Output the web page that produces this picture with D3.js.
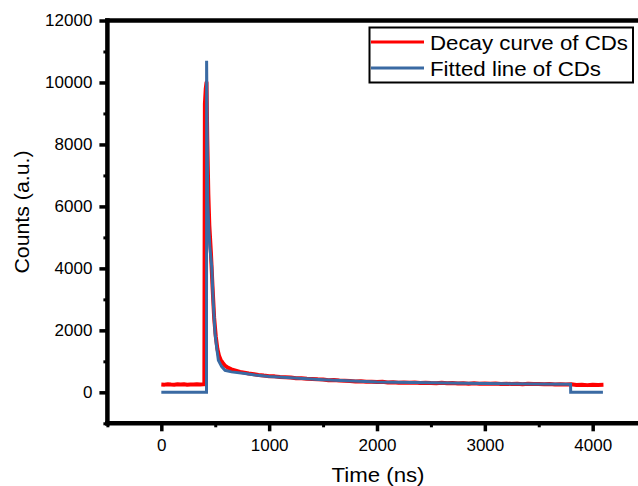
<!DOCTYPE html>
<html>
<head>
<meta charset="utf-8">
<script src="https://cdn.jsdelivr.net/npm/d3@7"></script>
<style>
  html, body { margin: 0; padding: 0; background: #fff; }
  svg { display: block; font-family: "Liberation Sans", Arial, sans-serif; }
</style>
</head>
<body>
<svg id="chart" width="638" height="486"></svg>
<script>
// ---- data ----
const seriesNames = ["Decay curve of CDs", "Fitted line of CDs"];

const decayTime = [0,30,60,90,120,150,180,210,240,270,300,330,360,390,399,404,412,419,426,436,445,460,475,490,505,520,535,550,570,590,620,650,690,730,770,810,860,900,950,1000,
  1050,1100,1150,1200,1250,1300,1350,1400,1450,1500,1550,1600,1650,1700,1750,1800,1850,1900,1950,2000,
  2050,2100,2150,2200,2250,2300,2350,2400,2450,2500,2550,2600,2650,2700,2750,2800,2850,2900,2950,3000,
  3050,3100,3150,3200,3250,3300,3350,3400,3450,3500,3550,3600,3650,3700,3750,3800,3850,3900,3950,4000,4050,4100];
const decayCounts = [255,248,262,251,246,258,250,263,247,256,249,260,252,257,260,9300,9800,10000,8200,6400,5400,4500,3400,2400,1800,1400,1180,1050,950,860,790,740,700,660,635,605,585,562,540,522,
  515,492,488,478,452,455,437,430,418,415,392,398,380,377,368,352,360,338,342,330,
  338,318,325,312,320,305,314,298,308,300,296,306,290,298,284,294,280,290,278,287,
  275,284,270,280,268,277,262,274,265,270,258,268,255,264,252,260,238,246,232,244,236,242];

const fitTime = [0,419,420,425,430,440,450,468,480,498,515,529,560,591,650,776,869,1000,1200,1500,2000,2500,3000,3500,3795,3796,4095];
const fitCounts = [0,0,10700,8500,6200,5300,4700,4030,3000,1900,1400,1030,830,710,660,610,560,510,470,405,335,305,285,268,258,0,0];

const xMajorTicks = [0,1000,2000,3000,4000];
const xMinorTicks = [-500,500,1500,2500,3500];
const yMajorTicks = [0,2000,4000,6000,8000,10000,12000];
const yMinorTicks = [-1000,1000,3000,5000,7000,9000,11000];

const xTitle = "Time (ns)";
const yTitle = "Counts (a.u.)";

// ---- drawing ----
const svg = d3.select("#chart");
const x = d3.scaleLinear().domain([-500, 4500]).range([107.4, 646.6]);
const y = d3.scaleLinear().domain([-1000, 12000]).range([423.3, 20.5]);

const red = "#ff0000", blue = "#3a6aa3";

svg.append("defs").append("clipPath").attr("id", "clip")
  .append("rect").attr("x", x(-500)).attr("y", y(12000)).attr("width", x(4500) - x(-500)).attr("height", y(-1000) - y(12000));

const line = d3.line().x(d => x(d[0])).y(d => y(d[1]));
const plot = svg.append("g").attr("clip-path", "url(#clip)");

plot.append("path")
  .datum(decayTime.map((t, i) => [t, decayCounts[i]]))
  .attr("d", line).attr("fill", "none").attr("stroke", red)
  .attr("stroke-width", 4).attr("stroke-linejoin", "round");

plot.append("path")
  .datum(fitTime.map((t, i) => [t, fitCounts[i]]))
  .attr("d", line).attr("fill", "none").attr("stroke", blue)
  .attr("stroke-width", 3).attr("stroke-linejoin", "miter");

// axes
function styleAxis(g, w) {
  g.select(".domain").remove();
  g.selectAll(".tick line").attr("stroke", "#000").attr("stroke-width", w);
}
const fmt = d3.format("d");

svg.append("g").attr("transform", `translate(${x(-500)},0)`)
  .call(d3.axisLeft(y).tickValues(yMinorTicks).tickSize(4).tickFormat(""))
  .call(g => styleAxis(g, 3));
svg.append("g").attr("transform", `translate(${x(-500)},0)`)
  .call(d3.axisLeft(y).tickValues(yMajorTicks).tickSize(8).tickPadding(7).tickFormat(fmt))
  .call(g => styleAxis(g, 3.5))
  .call(g => g.selectAll("text").attr("font-size", 17).attr("fill", "#000").attr("font-family", "Liberation Sans, Arial, sans-serif"));

svg.append("g").attr("transform", `translate(0,${y(-1000)})`)
  .call(d3.axisBottom(x).tickValues(xMinorTicks).tickSize(4).tickFormat(""))
  .call(g => styleAxis(g, 3));
svg.append("g").attr("transform", `translate(0,${y(-1000)})`)
  .call(d3.axisBottom(x).tickValues(xMajorTicks).tickSize(8).tickPadding(8).tickFormat(fmt))
  .call(g => styleAxis(g, 3.5))
  .call(g => g.selectAll("text").attr("font-size", 17).attr("fill", "#000").attr("font-family", "Liberation Sans, Arial, sans-serif"));

// frame lines
const frame = svg.append("g").attr("stroke", "#000").attr("stroke-width", 4.5).attr("stroke-linecap", "square");
frame.append("line").attr("x1", x(-500)).attr("x2", x(4500)).attr("y1", y(-1000)).attr("y2", y(-1000));
frame.append("line").attr("x1", x(-500)).attr("x2", x(4500)).attr("y1", y(12000)).attr("y2", y(12000));
frame.append("line").attr("x1", x(-500)).attr("x2", x(-500)).attr("y1", y(-1000)).attr("y2", y(12000));

// titles
svg.append("text").attr("x", 378).attr("y", 482).attr("text-anchor", "middle")
  .attr("font-size", 20).attr("textLength", 93).attr("lengthAdjust", "spacingAndGlyphs").text(xTitle);
svg.append("text").attr("transform", "translate(29,212) rotate(-90)").attr("text-anchor", "middle")
  .attr("font-size", 20).attr("textLength", 123).attr("lengthAdjust", "spacingAndGlyphs").text(yTitle);

// legend
const lg = svg.append("g");
lg.append("rect").attr("x", 369.5).attr("y", 27.5).attr("width", 263.5).attr("height", 55)
  .attr("fill", "#fff").attr("stroke", "#000").attr("stroke-width", 2);
const legendColors = [red, blue];
const legendLengths = [198, 171];
seriesNames.forEach((name, i) => {
  const cy = 42 + i * 26;
  lg.append("line").attr("x1", 371).attr("x2", 424).attr("y1", cy).attr("y2", cy)
    .attr("stroke", legendColors[i]).attr("stroke-width", 3);
  lg.append("text").attr("x", 430).attr("y", cy + 7.5).attr("font-size", 20)
    .attr("textLength", legendLengths[i]).attr("lengthAdjust", "spacingAndGlyphs").text(name);
});
</script>
</body>
</html>
